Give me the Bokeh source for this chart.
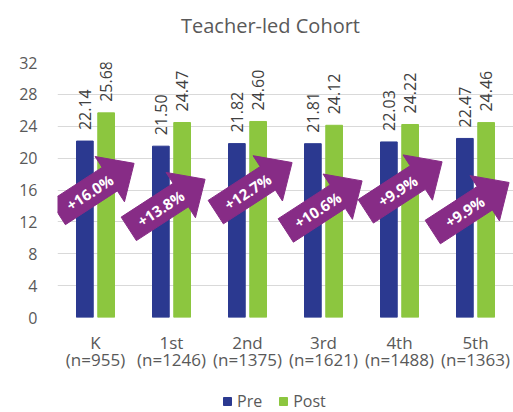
import math
from bokeh.plotting import figure
from bokeh.layouts import column
from bokeh.models import (Range1d, FixedTicker, Legend, LegendItem,
                          ColumnDataSource)
from bokeh.core.properties import value
from bokeh.embed import file_html
from bokeh.resources import INLINE

# ---- data ----
title = "Teacher-led Cohort"
grades = ["K", "1st", "2nd", "3rd", "4th", "5th"]
n_sizes = [955, 1246, 1375, 1621, 1488, 1363]
pre = [22.14, 21.50, 21.82, 21.81, 22.03, 22.47]
post = [25.68, 24.47, 24.60, 24.12, 24.22, 24.46]
gains = ["+16.0%", "+13.8%", "+12.7%", "+10.6%", "+9.9%", "+9.9%"]
series = ["Pre", "Post"]
y_ticks = [0, 4, 8, 12, 16, 20, 24, 28, 32]

# ---- layout constants ----
W, HT, H, HL = 513, 40, 346, 26
BL, BR, BT, BB = 57, 0, 22, 69
FRAME_W = W - BL - BR
FRAME_H = H - BT - BB
Y_MAX = 32
N = len(grades)
PX_X = FRAME_W / N          # pixels per x unit
PX_Y = FRAME_H / Y_MAX      # pixels per y unit

FONT = "Open Sans"
BLUE = "#2B3990"
GREEN = "#8CC63F"
PURPLE = "#872C86"
GRAY = "#595959"

# arrow annotation placement (midpoint of each arrow: px offset from group centre, value level)
arrow_dx = [0, -5, 6, 0, 4, -5]
arrow_lvl = [16.2, 14.2, 16.3, 14.0, 16.4, 13.8]
ANG = 33.0

centers = [i + 0.5 for i in range(N)]
OFF, BW = 0.14, 0.22


def strip(height):
    f = figure(width=W, height=height, output_backend="svg", toolbar_location=None,
               x_range=Range1d(0, W), y_range=Range1d(0, height),
               x_axis_location=None, y_axis_location=None,
               min_border_left=0, min_border_right=0, min_border_top=0,
               min_border_bottom=0)
    f.frame_align = False
    f.outline_line_color = None
    f.xgrid.visible = False
    f.ygrid.visible = False
    return f


# ---- title strip ----
tf = strip(HT)
tf.text(x=[270], y=[HT - 25], text=[title], text_align="center",
        text_baseline="middle", text_font=value(FONT), text_font_size="20px",
        text_color=GRAY)

# ---- main chart ----
p = figure(width=W, height=H, output_backend="svg", toolbar_location=None,
           x_range=Range1d(0, N), y_range=Range1d(0, Y_MAX),
           min_border_left=BL, min_border_right=BR, min_border_top=BT,
           min_border_bottom=BB)
p.frame_align = False
p.outline_line_color = None
p.background_fill_color = "white"
p.border_fill_color = "white"

src = ColumnDataSource(dict(
    xpre=[c - OFF for c in centers], xpost=[c + OFF for c in centers],
    pre=pre, post=post,
    pre_lbl=["%.2f" % v for v in pre], post_lbl=["%.2f" % v for v in post]))

p.vbar(x="xpre", top="pre", width=BW, source=src, color=BLUE)
p.vbar(x="xpost", top="post", width=BW, source=src, color=GREEN)

for xcol, ycol, lcol in (("xpre", "pre", "pre_lbl"), ("xpost", "post", "post_lbl")):
    p.text(x=xcol, y=ycol, text=lcol, source=src, angle=90, angle_units="deg",
           text_align="left", text_baseline="middle", y_offset=-11,
           text_font=value(FONT), text_font_size="16px", text_color="#404040")

# arrows
th = math.radians(ANG)
ct, st = math.cos(th), math.sin(th)
local = [(-45, -14), (17, -14), (17, -27), (46, 0), (17, 27), (17, 14), (-45, 14)]
xs, ys, tx, ty = [], [], [], []
for c, dx, lv in zip(centers, arrow_dx, arrow_lvl):
    xc = c + dx / PX_X
    xs.append([xc + (a * ct - q * st) / PX_X for a, q in local])
    ys.append([lv + (a * st + q * ct) / PX_Y for a, q in local])
    tx.append(xc + (-7 * ct) / PX_X)
    ty.append(lv + (-7 * st) / PX_Y)
p.patches(xs, ys, fill_color=PURPLE, line_color=PURPLE)
p.text(x=tx, y=ty, text=gains, angle=ANG, angle_units="deg",
       text_align="center", text_baseline="middle", text_color="white",
       text_font=value(FONT), text_font_size="15px", text_font_style="bold")

# axes
p.xgrid.visible = False
p.ygrid.grid_line_color = "#D9D9D9"
p.ygrid.grid_line_width = 1
p.yaxis.ticker = FixedTicker(ticks=y_ticks)
p.yaxis.axis_line_color = None
p.yaxis.major_tick_line_color = None
p.yaxis.minor_tick_line_color = None
p.yaxis.major_tick_out = 0
p.yaxis.major_label_standoff = 20
p.yaxis.major_label_text_font = FONT
p.yaxis.major_label_text_font_size = "16px"
p.yaxis.major_label_text_color = GRAY

p.xaxis.ticker = FixedTicker(ticks=centers)
p.xaxis.major_label_overrides = {c: "%s\n(n=%d)" % (g, n)
                                 for c, g, n in zip(centers, grades, n_sizes)}
p.xaxis.axis_line_color = None
p.xaxis.major_tick_line_color = None
p.xaxis.minor_tick_line_color = None
p.xaxis.major_tick_out = 0
p.xaxis.major_label_standoff = 13
p.xaxis.major_label_text_font = FONT
p.xaxis.major_label_text_font_size = "17px"
p.xaxis.major_label_text_line_height = 0.75
p.xaxis.major_label_text_color = GRAY

# ---- legend strip ----
lf = strip(HL)
rl = [lf.vbar(x=[W + 50], top=[1], width=1, color=c) for c in (BLUE, GREEN)]
legend = Legend(items=[LegendItem(label=s, renderers=[r]) for s, r in zip(series, rl)],
                orientation="horizontal", location=(222, 0),
                glyph_width=10, glyph_height=10, label_standoff=5, spacing=16,
                padding=0, margin=0, border_line_color=None,
                background_fill_alpha=0, label_text_font=FONT,
                label_text_font_size="16px", label_text_color=GRAY,
                label_height=10)
lf.add_layout(legend)

open("out.html", "w").write(file_html(column(tf, p, lf), INLINE))
